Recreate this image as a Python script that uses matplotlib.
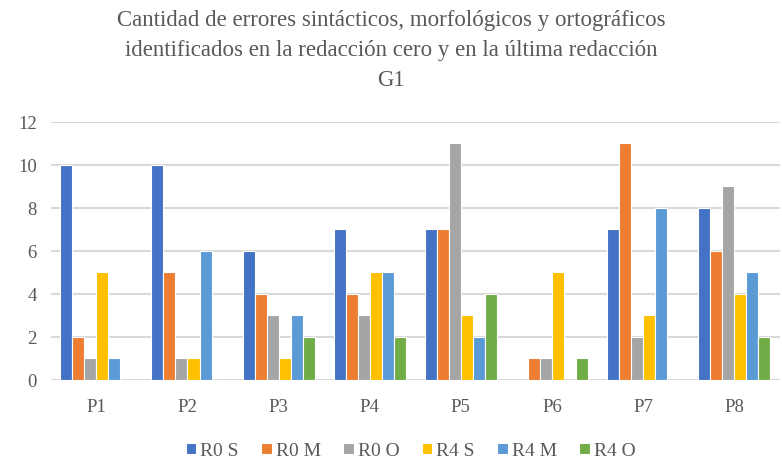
import matplotlib.pyplot as plt
import numpy as np

categories = ["P1", "P2", "P3", "P4", "P5", "P6", "P7", "P8"]
series_names = ["R0 S", "R0 M", "R0 O", "R4 S", "R4 M", "R4 O"]
r0_s = [10, 10, 6, 7, 7, 0, 7, 8]
r0_m = [2, 5, 4, 4, 7, 1, 11, 6]
r0_o = [1, 1, 3, 3, 11, 1, 2, 9]
r4_s = [5, 1, 1, 5, 3, 5, 3, 4]
r4_m = [1, 6, 3, 5, 2, 0, 8, 5]
r4_o = [0, 0, 2, 2, 4, 1, 0, 2]
series = [r0_s, r0_m, r0_o, r4_s, r4_m, r4_o]
colors = ["#4472C4", "#ED7D31", "#A5A5A5", "#FFC000", "#5B9BD5", "#70AD47"]

plt.rcParams["font.family"] = ["Liberation Serif", "DejaVu Serif"]
text_color = "#595959"

fig = plt.figure(figsize=(7.82, 4.64), dpi=100)
ax = fig.add_axes([0.065, 0.179, 0.932, 0.556])

x = np.arange(len(categories))
w = 0.132
for i, (vals, name, c) in enumerate(zip(series, series_names, colors)):
    offset = (i - 2.5) * w
    ax.bar(x + offset, vals, width=w, color=c, edgecolor="white",
           linewidth=0.8, label=name, zorder=3)

ax.set_xlim(-0.5, len(categories) - 0.5)
ax.set_ylim(0, 12)
ax.set_yticks(range(0, 13, 2))
ax.set_xticks(x)
ax.set_xticklabels(categories)
ax.grid(axis="y", color="#D9D9D9", linewidth=1.5, zorder=0)
for s in ax.spines.values():
    s.set_visible(False)
ax.tick_params(axis="both", length=0, labelsize=13.5, colors=text_color)
ax.tick_params(axis="x", pad=13)
ax.tick_params(axis="y", pad=10)

fig.suptitle("Cantidad de errores sintácticos, morfológicos y ortográficos\n"
             "identificados en la redacción cero y en la última redacción\nG1",
             y=0.978, fontsize=16.5, color=text_color, linespacing=1.55)

fig.legend(loc="lower center", bbox_to_anchor=(0.525, -0.03), ncol=6,
           frameon=False, fontsize=14, labelcolor=text_color,
           handlelength=0.55, handleheight=0.55, handletextpad=0.2,
           columnspacing=1.15)

fig.savefig("out.png", dpi=100)
